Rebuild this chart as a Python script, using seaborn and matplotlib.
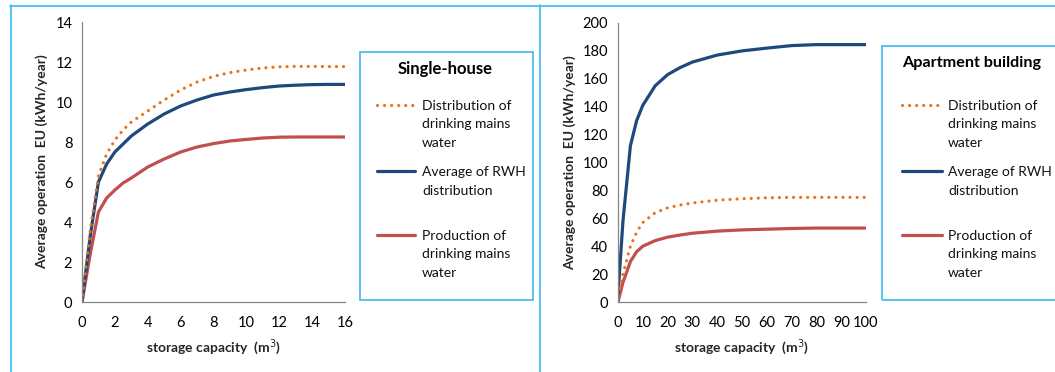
import matplotlib
matplotlib.use("Agg")
import matplotlib.pyplot as plt
from matplotlib.lines import Line2D
from matplotlib.patches import Rectangle
import seaborn as sns

# ---------------- data ----------------
house_x = [0, 0.5, 1, 1.5, 2, 2.5, 3, 4, 5, 6, 7, 8, 9, 10, 11, 12, 13, 14, 15, 16]
house_distribution = [0, 3.6, 6.3, 7.4, 8.1, 8.6, 9.0, 9.55, 10.1, 10.6, 11.0, 11.28,
                      11.47, 11.6, 11.7, 11.76, 11.78, 11.78, 11.77, 11.77]
house_rwh = [0, 3.3, 6.0, 6.9, 7.5, 7.9, 8.3, 8.9, 9.4, 9.8, 10.1, 10.35,
             10.5, 10.62, 10.72, 10.8, 10.84, 10.87, 10.88, 10.88]
house_production = [0, 2.4, 4.5, 5.2, 5.6, 5.95, 6.2, 6.75, 7.15, 7.5, 7.75, 7.92,
                    8.05, 8.13, 8.2, 8.24, 8.25, 8.25, 8.25, 8.25]

apt_x = [0, 2, 5, 7.5, 10, 15, 20, 25, 30, 40, 50, 60, 70, 80, 90, 100]
apt_distribution = [5, 20, 40, 50, 57, 64, 67.5, 69.5, 71, 73, 74, 74.7, 75, 75, 75, 75]
apt_rwh = [5, 58, 112, 130, 141, 155, 163, 168, 172, 177, 180, 182, 183.8, 184.5, 184.5, 184.5]
apt_production = [0, 14, 29, 36, 40, 44, 46.5, 48, 49.3, 50.8, 51.7, 52.2, 52.7, 53, 53, 53]

series_labels = ["Distribution of\ndrinking mains\nwater",
                 "Average of RWH\ndistribution",
                 "Production of\ndrinking mains\nwater"]
panel_titles = ["Single-house", "Apartment building"]
x_label = "storage capacity  (m$^3$)"
y_label = "Average operation  EU (kWh/year)"
house_xticks = [0, 2, 4, 6, 8, 10, 12, 14, 16]
house_yticks = [0, 2, 4, 6, 8, 10, 12, 14]
apt_xticks = [0, 10, 20, 30, 40, 50, 60, 70, 80, 90, 100]
apt_yticks = [0, 20, 40, 60, 80, 100, 120, 140, 160, 180, 200]

# ---------------- style ----------------
sns.set_style("white")
plt.rcParams['font.family'] = ['Lato', 'DejaVu Sans']

ORANGE = "#E8731A"
BLUE = "#1F497D"
RED = "#C0504D"
FRAME = "#3CB9F0"
AXIS = "#868686"

W, H = 1055, 372
fig = plt.figure(figsize=(W / 100, H / 100), dpi=100)


def fx(px):
    return px / W


def fy(py):
    return 1 - py / H


def make_axes(l, r, t, b):
    return fig.add_axes([fx(l), fy(b), fx(r) - fx(l), fy(t) - fy(b)])


ax1 = make_axes(82, 345, 22, 302)
ax2 = make_axes(618, 866, 23, 302)

dot_style = (0, (0.01, 2.2))
LW = 2.3

for ax, xs, dist, rwh, prod, xt, yt in [
    (ax1, house_x, house_distribution, house_rwh, house_production, house_xticks, house_yticks),
    (ax2, apt_x, apt_distribution, apt_rwh, apt_production, apt_xticks, apt_yticks),
]:
    sns.lineplot(x=xs, y=prod, ax=ax, color=RED, lw=LW)
    sns.lineplot(x=xs, y=rwh, ax=ax, color=BLUE, lw=LW)
    sns.lineplot(x=xs, y=dist, ax=ax, color=ORANGE, lw=LW, linestyle=dot_style,
                 dash_capstyle="round")
    ax.set_xlim(xt[0], xt[-1])
    ax.set_ylim(yt[0], yt[-1])
    ax.set_xticks(xt)
    ax.set_yticks(yt)
    for s in ["top", "right"]:
        ax.spines[s].set_visible(False)
    for s in ["left", "bottom"]:
        ax.spines[s].set_color(AXIS)
        ax.spines[s].set_linewidth(0.9)
    ax.tick_params(axis="both", which="major", direction="out", length=4, width=0.9,
                   color=AXIS, labelsize=10.5, labelcolor="#000000", pad=3)
    ax.tick_params(axis="x", pad=6)
    ax.set_xlabel(x_label, fontsize=10, fontweight="bold", labelpad=5)
    ax.set_ylabel(y_label, fontsize=10, fontweight="bold", labelpad=5)
    ax.patch.set_alpha(0)

# ---------------- frames ----------------
fig.add_artist(Line2D([fx(10), fx(1055)], [fy(5.5), fy(5.5)], color=FRAME, lw=1.2))
fig.add_artist(Line2D([fx(10.5), fx(10.5)], [fy(5), fy(372)], color=FRAME, lw=1.2))
fig.add_artist(Line2D([fx(540), fx(540)], [fy(5), fy(372)], color=FRAME, lw=1.2))

# ---------------- legends ----------------
def legend_block(box_l, box_r, box_t, box_b, title, title_cx, title_y, title_fs,
                 key_l, key_r, text_l):
    fig.add_artist(Rectangle((fx(box_l), fy(box_b)), fx(box_r) - fx(box_l), fy(box_t) - fy(box_b),
                             fill=False, edgecolor=FRAME, lw=1.2))
    fig.text(fx(title_cx), fy(title_y), title, ha="center", va="center",
             fontsize=title_fs, fontweight="bold", color="#000000")
    entries = [(105, ORANGE, dot_style, series_labels[0]),
               (171, BLUE, "-", series_labels[1]),
               (235, RED, "-", series_labels[2])]
    for ky, col, ls, lab in entries:
        fig.add_artist(Line2D([fx(key_l), fx(key_r)], [fy(ky), fy(ky)], color=col, lw=LW,
                              linestyle=ls, dash_capstyle="round"))
        fig.text(fx(text_l), fy(ky - 5), lab, ha="left", va="top", fontsize=10,
                 color="#111111", linespacing=1.65)


legend_block(360, 533, 52, 300, panel_titles[0], 445, 69, 12, 377, 415, 422)
legend_block(882, 1060, 46, 300, panel_titles[1], 972, 63, 11.6, 902, 942, 948)

fig.savefig("out.png", dpi=100)
